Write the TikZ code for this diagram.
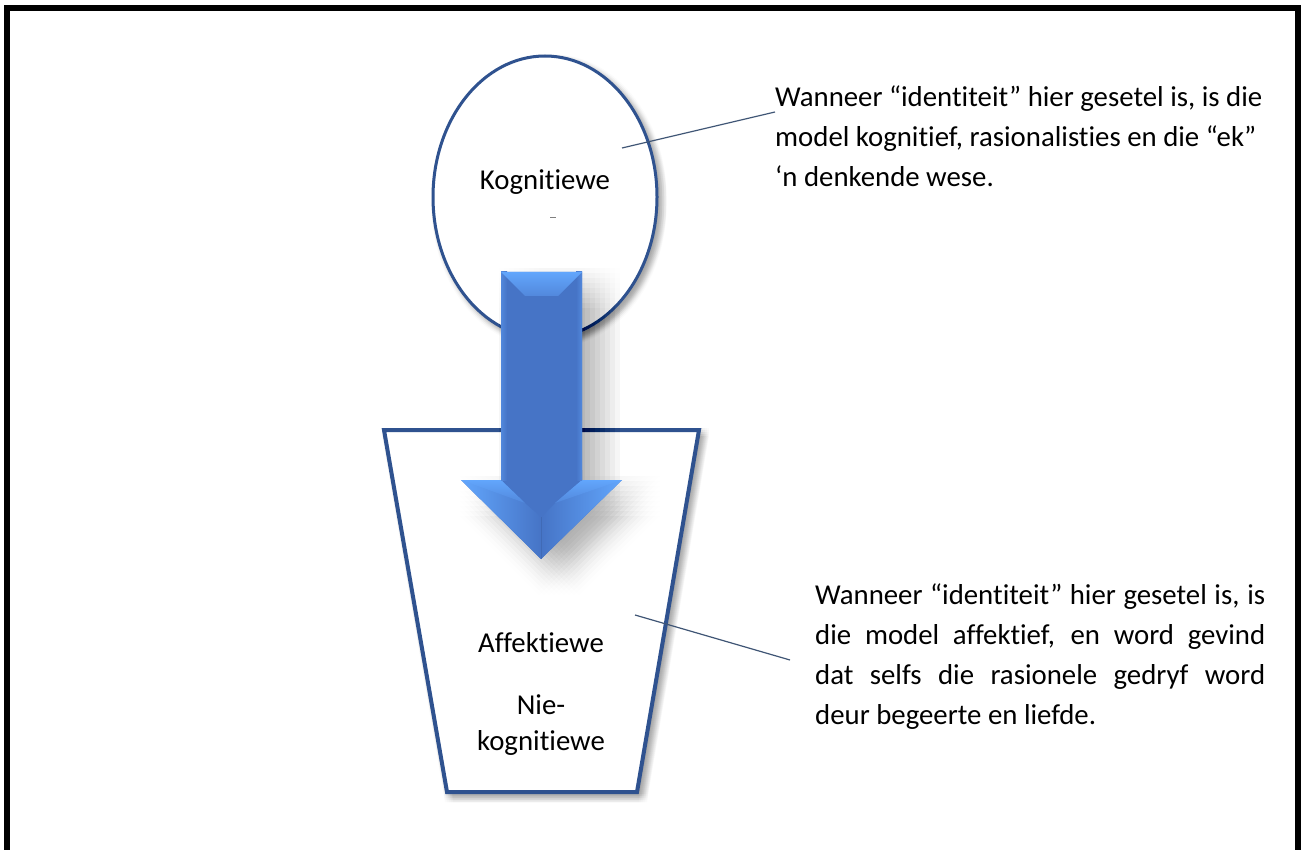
\documentclass[tikz,border=0pt]{standalone}
\usepackage{fontspec}
\setmainfont{Carlito}[Ligatures={NoCommon}]
\usetikzlibrary{shapes.geometric}
\definecolor{outline}{HTML}{2F528F}
\definecolor{callout}{HTML}{3F5575}
\definecolor{abase}{HTML}{4674C6}
\definecolor{alight}{HTML}{62A6FC}
\definecolor{amid}{HTML}{5288DC}
\newcommand{\bodyfont}{\fontsize{28.8}{40}\selectfont}
\tikzset{
  shape outline/.style={draw=outline, fill=white, line join=miter},
  softshadow/.style={fill=black, opacity=0.014},
  arrowshadow/.style={fill=black, opacity=0.0045},
  lbl/.style={inner sep=0pt, font=\bodyfont, anchor=base},
  para/.style={inner sep=0pt, anchor=base west, font=\bodyfont},
  callline/.style={draw=callout, line width=1.2pt},
}
\begin{document}
\begin{tikzpicture}[x=1pt,y=-1pt]
\useasboundingbox (0,0) rectangle (1304,850);
\fill[white] (0,0) rectangle (1304,850);
% frame
\draw[line width=6pt, line join=miter] (7,850) -- (7,8) -- (1298,8) -- (1298,850);

% ellipse with soft shadow
\foreach \i in {-4,-2,...,4} \foreach \j in {-4,-2,...,4} {
  \path[softshadow, shift={(\i+4,\j+4)}] (545,197) ellipse [x radius=113.5, y radius=142.5];
}
\node[shape outline, line width=3pt, ellipse, minimum width=224pt, minimum height=282pt, inner sep=0pt] (kog) at (545,197) {};
\node[lbl] (kogl) at (545,190) {Kognitiewe};
\draw[gray, line width=1pt] (550,218) -- (556,218);

% trapezoid with soft shadow
\foreach \i in {-4,-2,...,4} \foreach \j in {-4,-2,...,4} {
  \path[softshadow, shift={(\i+4,\j+4)}] (382,428) -- (701,428) -- (639,794) -- (445,794) -- cycle;
}
\path[shape outline, line width=4pt] (384,430) coordinate (tl) -- (699,430) coordinate (tr) -- (637,792) coordinate (br) -- (447,792) coordinate (bl) -- cycle;
\node[lbl] (aff) at (541,652) {Affektiewe};
\node[lbl] (nie) at (541,714) {Nie-};
\node[lbl] (nkog) at (541,750) {kognitiewe};

% arrow shadow
\foreach \i in {-20,-15,...,20} \foreach \j in {-20,-15,...,20} {
  \path[arrowshadow, shift={(\i+18,\j+16)}]
    (501,272) -- (582,272) -- (582,480) -- (622,480) -- (541,559) -- (461,480) -- (501,480) -- cycle;
}
% arrow
\fill[abase] (501,272) -- (582,272) -- (582,480) -- (622,480) -- (541,559) -- (461,480) -- (501,480) -- cycle;
% head faces
\shade[left color=alight, right color=abase] (461,480) -- (541,480) -- (541,559) -- cycle;
\shade[left color=abase, right color=alight] (541,480) -- (622,480) -- (541,559) -- cycle;
\fill[abase] (501,470) -- (582,470) -- (582,480) -- (555,503) -- (541,517) -- (525,503) -- (501,480) -- cycle;
% wing bevels
\shade[top color=alight, bottom color=amid] (461,480) -- (501,480) -- (525,503) -- cycle;
\shade[top color=alight, bottom color=amid] (582,480) -- (622,480) -- (555,503) -- cycle;
\draw[abase!80!black, line width=0.4pt, opacity=0.4] (541,517) -- (541,559);
% shaft
\fill[abase] (501,272) rectangle (582,480);
\shade[left color=amid, right color=abase] (501,272) rectangle (507,480);
\shade[left color=abase, right color=amid] (576,272) rectangle (582,480);
% top bevel
\shade[top color=alight, bottom color=amid] (501,272) -- (582,272) -- (558,296) -- (525,296) -- cycle;

% callouts
\coordinate (c1a) at (622,148);
\node[para] (t1) at (775,107) {\parbox[t]{520pt}{\bodyfont Wanneer “identiteit” hier gesetel is, is die\\
model kognitief, rasionalisties en die “ek”\\
‘n denkende wese.}};
\coordinate (c1b) at (775,112);
\draw[callline] (c1a) -- (c1b);

\coordinate (c2a) at (635,615);
\node[para] (t2) at (815,604) {\parbox[t]{450pt}{\bodyfont
\makebox[450pt][s]{Wanneer “identiteit” hier gesetel is, is}\\
\makebox[450pt][s]{die model affektief, en word gevind}\\
\makebox[450pt][s]{dat selfs die rasionele gedryf word}\\
deur begeerte en liefde.}};
\coordinate (c2b) at (790,660);
\draw[callline] (c2a) -- (c2b);
\end{tikzpicture}
\end{document}
